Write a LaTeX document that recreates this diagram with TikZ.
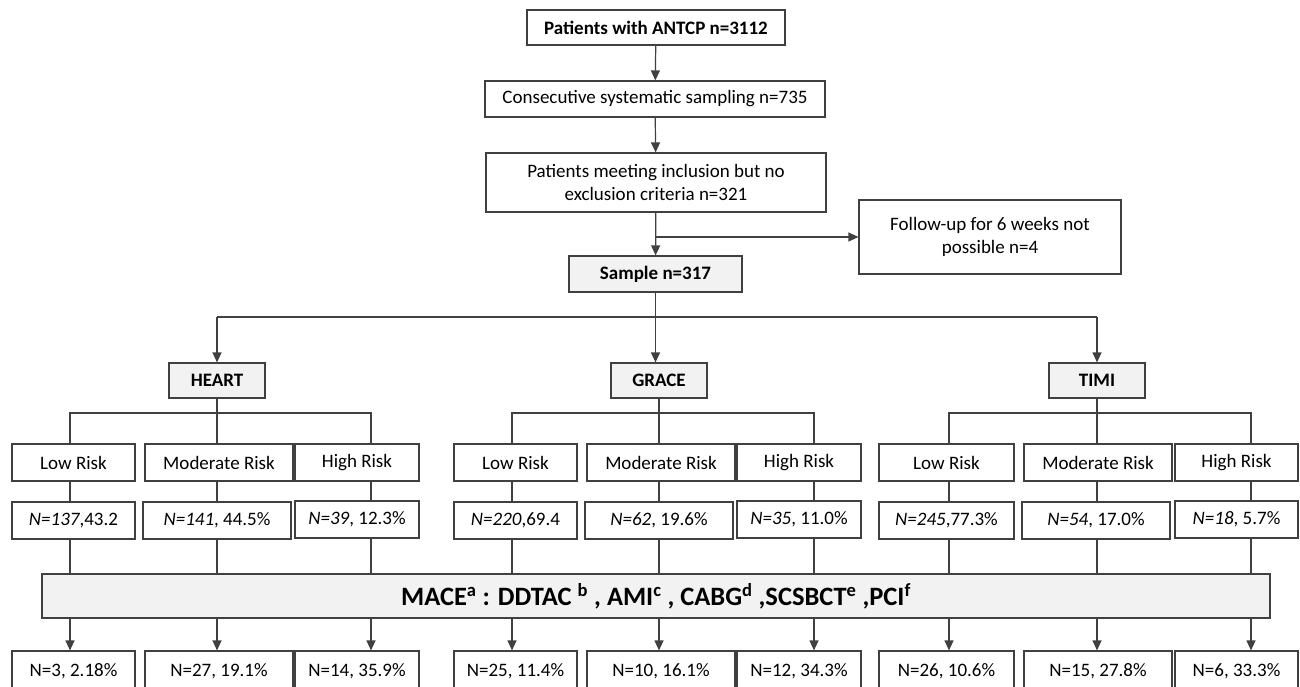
\documentclass[tikz,border=0pt]{standalone}
\usepackage{fontspec}
\setmainfont{Carlito}
\usetikzlibrary{arrows.meta}
\definecolor{lgray}{HTML}{F2F2F2}
\definecolor{dgray}{HTML}{404040}
\tikzset{
  box/.style={draw=dgray, line width=1.2pt, inner sep=0pt, align=center,
    text=black, font=\fontsize{19}{23.5}\selectfont},
  gbox/.style={box, fill=lgray, font=\fontsize{19}{23.5}\selectfont\bfseries},
  riskbox/.style={box, minimum height=37pt},
  endbox/.style={box, minimum height=40pt},
  arr/.style={-{Triangle[length=10pt,width=9pt]}},
}
\begin{document}
\begin{tikzpicture}[x=1pt, y=-1pt, line width=1.2pt, color=dgray]
  \useasboundingbox (0,0) rectangle (1300,686);

  % ------ selection of the sample ------
  \node[box, minimum width=258pt, minimum height=35pt] (top) at (656,27.5)
    {\bfseries Patients with ANTCP n=3112};
  \node[box, minimum width=340pt, minimum height=36pt] (cons) at (655,99)
    {Consecutive systematic sampling n=735};
  \node[box, minimum width=340pt, minimum height=59pt] (incl) at (656,182.5)
    {Patients meeting inclusion but no\\exclusion criteria n=321};
  \node[box, minimum width=262pt, minimum height=74pt] (fup) at (990,237)
    {Follow-up for 6 weeks not\\possible n=4};
  \node[gbox, minimum width=173pt, minimum height=36pt] (smp) at (655.5,274)
    {Sample n=317};

  \draw[arr] (top) -- (cons);
  \draw[arr] (cons) -- (incl);
  \draw[arr] (incl) -- (smp);
  \coordinate (brk) at (655,237);
  \draw[arr] (brk) -- (fup);

  % ------ the three scores ------
  \node[gbox, minimum width=96pt, minimum height=35pt] (heart) at (217,380.5) {HEART};
  \node[gbox, minimum width=96pt, minimum height=35pt] (grace) at (659,380.5) {GRACE};
  \node[gbox, minimum width=96pt, minimum height=35pt] (timi) at (1097,380.5) {TIMI};

  \coordinate (fan) at (0,317);
  \draw[arr] (smp) -- (smp |- grace.north);
  \draw (heart.north |- fan) -- (timi.north |- fan);
  \draw[arr] (heart.north |- fan) -- (heart);
  \draw[arr] (timi.north |- fan) -- (timi);

  % columns of the risk groups
  \coordinate (heart-cL) at (70,413);  \coordinate (heart-cM) at (217,413);  \coordinate (heart-cH) at (371,413);
  \coordinate (grace-cL) at (512,413); \coordinate (grace-cM) at (659,413);  \coordinate (grace-cH) at (814,413);
  \coordinate (timi-cL) at (949,413);  \coordinate (timi-cM) at (1097,413);  \coordinate (timi-cH) at (1251,413);

  \foreach \g/\xl/\wl/\xm/\xh/\wh in {heart/73.5/123/219/357/124,
      grace/515.5/123/661/799/124, timi/946.5/135/1098/1236.5/123}{
    \node[riskbox, minimum width=\wl pt] (\g-L) at (\xl,462.5) {Low Risk};
    \node[riskbox, minimum width=148pt] (\g-M) at (\xm,462.5) {Moderate Risk};
    \node[riskbox, minimum width=\wh pt] (\g-H) at (\xh,462.5) {High Risk};
  }

  \node[riskbox, minimum width=123pt] (heart-NL) at (73.5,520.5) {\textit{N=137},43.2};
  \node[riskbox, minimum width=148pt] (heart-NM) at (217,520.5) {\textit{N=141}, 44.5\%};
  \node[riskbox, minimum width=124pt] (heart-NH) at (357,519.5) {\textit{N=39}, 12.3\%};
  \node[riskbox, minimum width=123pt] (grace-NL) at (515.5,520.5) {\textit{N=220},69.4};
  \node[riskbox, minimum width=148pt] (grace-NM) at (659,520.5) {\textit{N=62}, 19.6\%};
  \node[riskbox, minimum width=124pt] (grace-NH) at (799,519.5) {\textit{N=35}, 11.0\%};
  \node[riskbox, minimum width=135pt] (timi-NL) at (946.5,520.5) {\textit{N=245},77.3\%};
  \node[riskbox, minimum width=148pt] (timi-NM) at (1096,520.5) {\textit{N=54}, 17.0\%};
  \node[riskbox, minimum width=123pt] (timi-NH) at (1236.5,519.5) {\textit{N=18}, 5.7\%};

  % ------ outcome ------
  \node[gbox, minimum width=1228pt, minimum height=44pt,
    font=\fontsize{26.5}{30}\selectfont\bfseries] (mace) at (656,596)
    {MACE\textsuperscript{a} : DDTAC \textsuperscript{b} , AMI\textsuperscript{c} ,
     CABG\textsuperscript{d} ,SCSBCT\textsuperscript{e} ,PCI\textsuperscript{f}};

  \node[endbox, minimum width=123pt] (heart-BL) at (73.5,671) {N=3, 2.18\%};
  \node[endbox, minimum width=148pt] (heart-BM) at (219,671) {N=27, 19.1\%};
  \node[endbox, minimum width=124pt] (heart-BH) at (357,671) {N=14, 35.9\%};
  \node[endbox, minimum width=123pt] (grace-BL) at (515.5,671) {N=25, 11.4\%};
  \node[endbox, minimum width=148pt] (grace-BM) at (661,671) {N=10, 16.1\%};
  \node[endbox, minimum width=124pt] (grace-BH) at (799,671) {N=12, 34.3\%};
  \node[endbox, minimum width=135pt] (timi-BL) at (946.5,671) {N=26, 10.6\%};
  \node[endbox, minimum width=148pt] (timi-BM) at (1098,671) {N=15, 27.8\%};
  \node[endbox, minimum width=123pt] (timi-BH) at (1236.5,671) {N=6, 33.3\%};

  \foreach \g in {heart,grace,timi}{
    \draw (\g) -- (\g |- \g-cM);
    \draw (\g-L.north -| \g-cL) -- (\g-cL) -- (\g-cH) -- (\g-H.north -| \g-cH);
    \draw (\g-cM) -- (\g-M.north -| \g-cM);
    \foreach \k in {L,M,H}{
      \draw (\g-\k.south -| \g-c\k) -- (\g-N\k.north -| \g-c\k);
      \draw (\g-N\k.south -| \g-c\k) -- (mace.north -| \g-c\k);
      \draw[arr] (mace.south -| \g-c\k) -- (\g-B\k.north -| \g-c\k);
    }
  }
\end{tikzpicture}
\end{document}
